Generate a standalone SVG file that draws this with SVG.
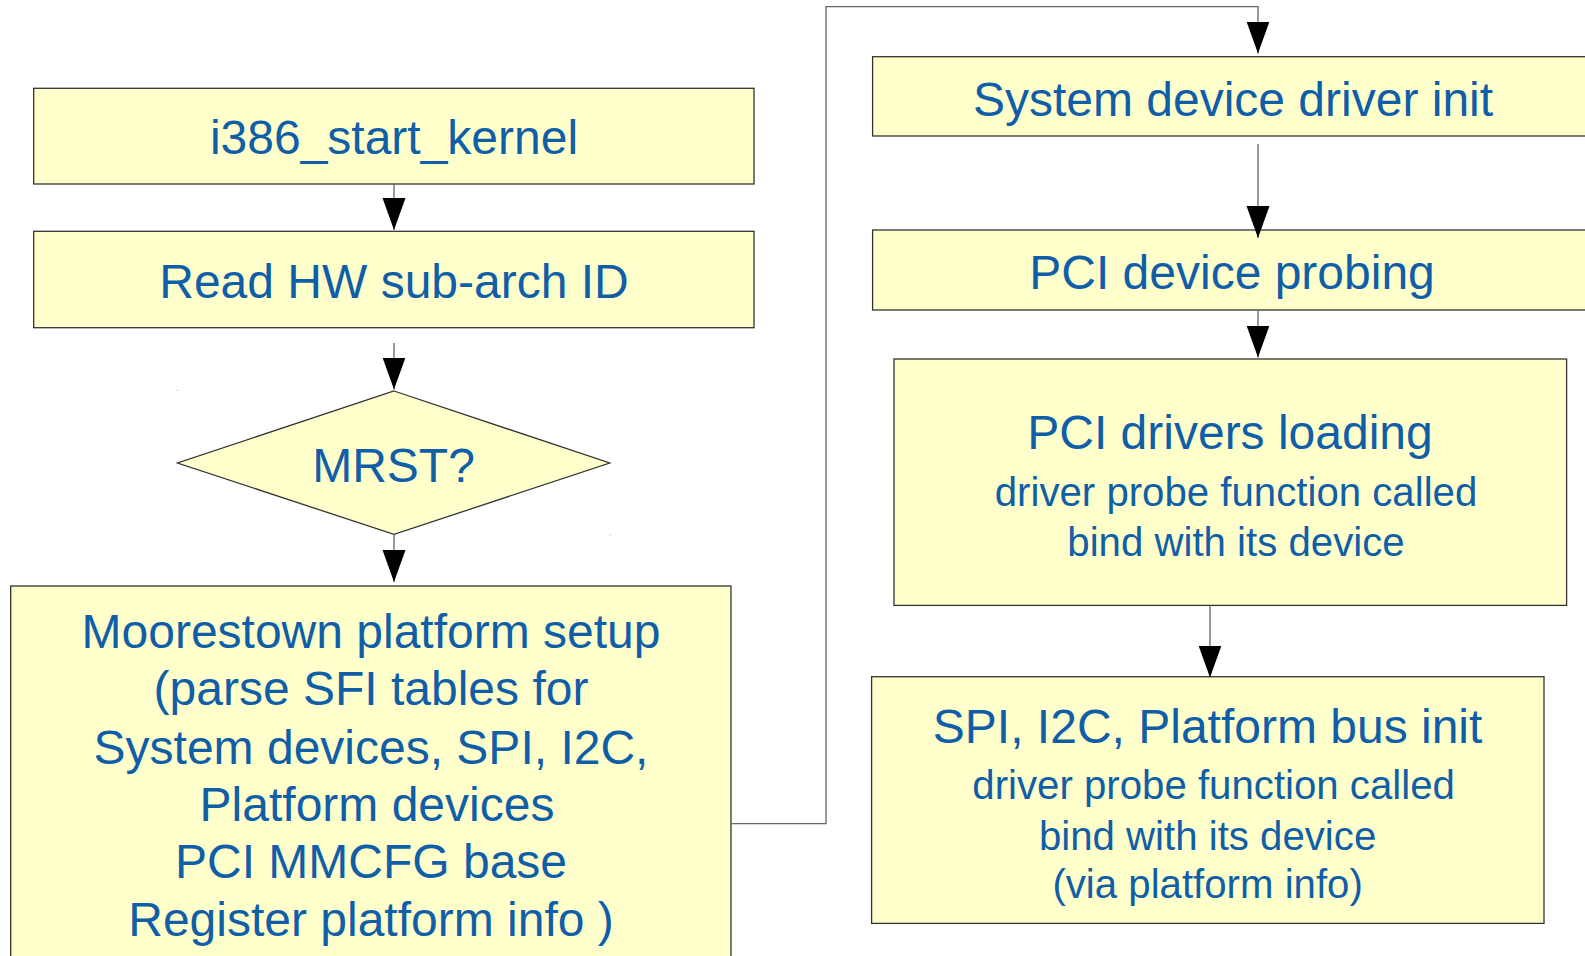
<svg xmlns="http://www.w3.org/2000/svg" width="1585" height="956" viewBox="0 0 1585 956">
<style>
.box{fill:#ffffcc;stroke:#333333;stroke-width:1.3}
.t{font-family:"Liberation Sans",Arial,sans-serif;fill:#105ea8;text-anchor:middle}
.big{font-size:48px}
.small{font-size:40.2px}
.conn{fill:none;stroke:#666666;stroke-width:1.3}
</style>
<defs>
<marker id="ah" markerUnits="userSpaceOnUse" markerWidth="33" markerHeight="24" refX="32" refY="11.5" orient="auto" viewBox="0 0 33 24">
<path d="M0,0 L32,11.5 L0,23 z" fill="#000000"/>
</marker>
</defs>
<rect width="1585" height="956" fill="#ffffff"/>
<g id="n_i386">
<rect class="box" x="33.7" y="88.3" width="720.3" height="95.7"/>
<text class="t big" x="394" y="154">i386_start_kernel</text>
</g>
<g id="n_readhw">
<rect class="box" x="33.7" y="231.3" width="720.3" height="96.4"/>
<text class="t big" x="394" y="298">Read HW sub-arch ID</text>
</g>
<g id="n_mrst">
<polygon class="box" points="394,391 609.7,463 394,534.4 177.5,463"/>
<text class="t big" x="393.5" y="482">MRST?</text>
<rect x="177" y="390" width="1" height="1" fill="#aaaaaa"/>
<rect x="609.5" y="534.5" width="1" height="1" fill="#aaaaaa"/>
</g>
<g id="n_moorestown">
<rect class="box" x="10.7" y="586" width="720.3" height="390"/>
<text class="t big" x="371" y="647.6">Moorestown platform setup</text>
<text class="t big" x="371" y="705">(parse SFI tables for</text>
<text class="t big" x="371" y="763.5">System devices, SPI, I2C,</text>
<text class="t big" x="377" y="820.5">Platform devices</text>
<text class="t big" x="371" y="878">PCI MMCFG base</text>
<text class="t big" x="371" y="936">Register platform info )</text>
</g>
<g id="n_sysinit">
<rect class="box" x="872.6" y="56.7" width="720" height="79.3"/>
<text class="t big" x="1233" y="116">System device driver init</text>
</g>
<g id="n_pciprobe">
<rect class="box" x="872.6" y="230" width="720" height="80"/>
<text class="t big" x="1232" y="289.3">PCI device probing</text>
</g>
<g id="n_pcidrivers">
<rect class="box" x="894" y="359" width="672.6" height="246.4"/>
<text class="t big" x="1230" y="448.7">PCI drivers loading</text>
<text class="t small" x="1236" y="506">driver probe function called</text>
<text class="t small" x="1236" y="555.7">bind with its device</text>
</g>
<g id="n_spi">
<rect class="box" x="871.6" y="676.7" width="672.4" height="246.7"/>
<text class="t big" x="1207.6" y="742.9">SPI, I2C, Platform bus init</text>
<text class="t small" x="1213.6" y="799">driver probe function called</text>
<text class="t small" x="1207.6" y="849.8">bind with its device</text>
<text class="t small" x="1207.6" y="897.6">(via platform info)</text>
</g>
<g id="connectors">
<path class="conn" d="M394,184 L394,230" marker-end="url(#ah)"/>
<path class="conn" d="M394,343 L394,389.5" marker-end="url(#ah)"/>
<path class="conn" d="M394,534.5 L394,582" marker-end="url(#ah)"/>
<path class="conn" d="M731,823.7 L826,823.7 L826,6.7 L1258,6.7 L1258,53.5" marker-end="url(#ah)"/>
<path class="conn" d="M1258,144 L1258,238" marker-end="url(#ah)"/>
<path class="conn" d="M1258,310 L1258,357.5" marker-end="url(#ah)"/>
<path class="conn" d="M1210,605.4 L1210,677.5" marker-end="url(#ah)"/>
</g>
</svg>
